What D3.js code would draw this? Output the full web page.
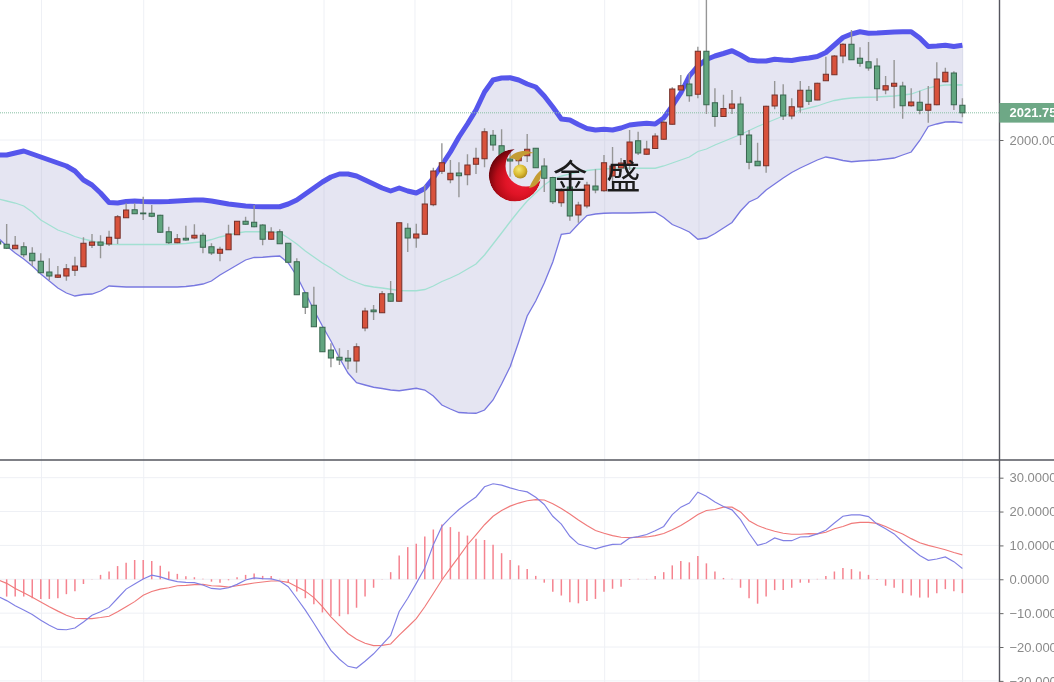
<!DOCTYPE html>
<html>
<head>
<meta charset="utf-8">
<script src="https://cdn.jsdelivr.net/npm/d3@7/dist/d3.min.js"></script>
<style>
html,body{margin:0;padding:0;background:#fff;overflow:hidden}
svg{display:block;filter:blur(0.4px)}
</style>
</head>
<body>
<svg id="c" width="1054" height="682"></svg>
<script>
const open=[1918.6,1916.6,1913.0,1914.6,1909.4,1903.0,1894.4,1890.2,1891.2,1895.8,1898.6,1915.8,1918.4,1916.8,1921.4,1937.8,1944.2,1941.6,1941.4,1939.8,1926.6,1917.8,1921.4,1921.6,1923.8,1914.6,1909.4,1912.2,1924.2,1935,1934.2,1932,1920.6,1926.6,1917.4,1902.6,1877.8,1867.8,1850.2,1832,1826.2,1825.4,1823.2,1849.6,1864,1861.8,1877,1871,1929.4,1921.6,1924.6,1948.2,1975,1968.2,1973.6,1972.2,1980.6,1985,2003.8,1995.4,1984.8,1983.4,1987.4,1993.4,1979.2,1970,1949.8,1962.4,1940,1947.2,1963.2,1959.4,1971.2,1977.6,1980.8,1999.4,1988.6,1993.2,2000.6,2012.6,2040,2044.8,2036.6,2071,2029.8,2018.8,2025.4,2028.8,2004,1983,1979.4,2027.2,2036,2019.2,2026.4,2039.8,2032,2047.4,2052.2,2067.2,2076.6,2065.4,2062.6,2059.2,2040,2043,2043.2,2027.4,2030.2,2023.8,2028.2,2046.6,2053.6,2027.8];
const close=[1916.8,1913.4,1915.8,1908.2,1903.4,1893.8,1891.2,1892,1897,1899.2,1917.4,1918.4,1915.8,1922.2,1938.6,1944,1941,1941,1939,1926.2,1917.8,1921,1920,1923.8,1914.2,1909.6,1912.6,1924.8,1935,1932.6,1930.6,1920.6,1926.4,1917,1902.2,1876.2,1866.2,1850.6,1830.6,1825.6,1824,1823.2,1834.6,1863.2,1862.6,1877,1871,1933.8,1921.6,1924.8,1948.8,1975.2,1981.8,1973.4,1971.4,1980,1985.4,2006.6,1996,1984,1983.2,1986.4,1992.6,1977.8,1969.4,1950.6,1959.2,1939.2,1948,1964,1960,1981.8,1979.2,1981.6,1998.4,1989.6,1992.8,2003.2,2014.2,2040.8,2043.4,2035.4,2071,2028.2,2018.8,2025.2,2028.8,2004.2,1982.2,1979.4,2027,2036,2019.2,2026.6,2039.8,2031,2045.4,2052.6,2067.2,2076.6,2064.2,2061.4,2057.6,2041,2043.4,2045.4,2027.4,2030.4,2023.8,2028.6,2048.8,2054.2,2028.2,2021.75];
const high=[1926.6,1932.8,1923.2,1918.2,1914.2,1909.4,1905.4,1899.2,1900.8,1906.6,1922.2,1924.8,1923.8,1927.4,1940,1949.4,1949.4,1954.6,1948,1940.2,1930.6,1924.8,1931.4,1932.6,1925.8,1917.4,1914.6,1932.2,1935.2,1938.6,1947.8,1932.6,1930.2,1928.6,1917.6,1905.4,1878.2,1882.6,1850.4,1837.4,1833.4,1832,1837.4,1865.8,1868,1879.2,1887.2,1934,1933.4,1933,1964,1977.8,1997.4,1984,1982.2,1988.6,1993.8,2009.4,2008,2008.6,1992,1990.4,2004.8,1993.6,1985.4,1970.6,1961.4,1964,1950.6,1966.6,1976.6,1988,1994.4,1985.6,2008,2006.6,1999.4,2005.4,2016,2042.2,2052,2053.6,2074.6,2113.6,2041.4,2036.2,2040,2034.6,2008,1997.8,2027.4,2047.2,2044.6,2033.4,2047.2,2043.2,2045.8,2066.6,2068,2077.4,2088,2074.2,2078.4,2065.4,2051.2,2064,2046.6,2041.4,2039.4,2043.2,2062.2,2057.8,2055,2033.4];
const low=[1916,1912.8,1912.8,1906.2,1899.2,1893.4,1888,1889.6,1887.4,1891.2,1898.4,1913.6,1905.4,1915.2,1916.8,1937.6,1940.8,1936,1938.2,1925.8,1916.8,1917.4,1919.4,1920.6,1909.4,1908,1903,1912,1924,1932.2,1930.2,1915.8,1920.2,1916.8,1901.8,1876,1860.8,1850.4,1830.4,1818.2,1820,1816.6,1813.8,1847,1856,1861.6,1870.6,1870.6,1910.4,1913.8,1924.2,1947,1972.8,1965.4,1954.2,1963.8,1972.8,1978.2,1991.4,1981.6,1970.6,1976,1982.4,1977.6,1958.4,1948.8,1946.6,1935.4,1933.8,1945.4,1957.4,1958.6,1964,1974.4,1976,1988,1988,1992.8,2000,2012.2,2039.4,2030.6,2033.4,2020.8,2010.6,2018.4,2020.8,1996,1976.6,1979.2,1973.8,2024.6,2016,2016.6,2021.8,2028,2031.8,2047.2,2052,2061.4,2064,2058.6,2055.4,2031.2,2036.6,2025.4,2017,2026.6,2020.6,2013.8,2027.8,2046.2,2024,2018.2];
const bollUpper=[1988,1988,1989.6,1991.2,1988.8,1986.4,1984,1981.6,1979.2,1975.2,1968,1964,1957.6,1950,1949.6,1950.8,1951.2,1950.8,1950.6,1950.6,1950.8,1951.2,1951.6,1952,1952,1951.2,1950,1948.8,1948,1947.2,1946.8,1946.6,1946.6,1946.6,1948.8,1952,1956.8,1961.6,1966.4,1970.4,1972.8,1972.8,1971.2,1968,1964.8,1961.6,1959.2,1961.6,1959.2,1957.6,1961.2,1969.6,1980,1990.4,2002.4,2012.8,2024,2038.4,2048,2049.6,2049.8,2048,2044.8,2042.4,2035.2,2026.4,2016.8,2016,2012.4,2009.2,2008,2008.6,2008,2009.6,2012,2012.8,2013.4,2012.8,2017.6,2027.2,2037.6,2051.2,2059.2,2064.4,2067.2,2069.2,2071.4,2068,2064,2063.2,2063.2,2064.6,2064,2063.6,2064.8,2065.6,2066.8,2070,2076,2082,2084.8,2086.6,2085.4,2085.6,2086,2086.4,2086.6,2086.6,2081.6,2074.8,2075.2,2075.8,2074.8,2075.8];
const bollLower=[1921.6,1915.2,1909.6,1904.8,1899.2,1892.8,1887.2,1881.6,1877.6,1875.2,1876.4,1876.8,1879.2,1883.2,1882.8,1882.4,1882.4,1882.4,1882.4,1882.4,1882.4,1882.4,1882.8,1883.6,1884.8,1887.2,1892,1896,1900,1904,1906,1906.2,1906.8,1907.2,1901.6,1891.2,1877.6,1864,1851.2,1839.2,1825.6,1813.6,1805.8,1804,1802.2,1801.2,1800,1799.4,1800.4,1801.4,1800,1795.2,1788,1784.8,1782,1781.6,1781.4,1784,1792,1804.8,1818.6,1838.4,1859.2,1871.2,1885.6,1902.4,1924.6,1925.4,1932.8,1939.6,1940.8,1941.4,1941.6,1941.6,1941.6,1941.8,1942,1942.2,1938,1932.4,1929.6,1926.4,1920.6,1921.6,1925.2,1929.6,1934,1943.2,1950.4,1953.6,1960,1964.8,1969.6,1974,1977.6,1980.8,1984,1986.4,1985.2,1983.6,1982.6,1983.2,1983.6,1984,1984.8,1985.6,1988,1990.4,1999.6,2010.8,2012.8,2014.4,2014.6,2013.8];
const bollMid=[1952.8,1951.2,1949.6,1947.2,1942.4,1936,1932,1928,1925.6,1922.8,1920.8,1919.2,1917.6,1916.6,1916.4,1916.4,1916.4,1916.4,1916.4,1916.4,1916.4,1916.8,1917.2,1918,1918.6,1920.4,1922.4,1924,1925.6,1926.6,1926.6,1926.6,1926.6,1925.8,1921.6,1916.8,1911.2,1906.4,1901.6,1897.6,1892.8,1888.8,1886,1883.6,1882.4,1881.6,1880.6,1879.6,1879.4,1879.4,1880.4,1883.2,1886.8,1889.6,1892.8,1896.8,1900.8,1908,1916.8,1925.6,1934.6,1943.2,1951.2,1957.6,1964,1968.8,1971.2,1972.8,1974.4,1975.6,1976.4,1976.8,1977.2,1977.4,1977.4,1977.4,1977.4,1977.4,1979.2,1981.6,1984,1986.4,1990.8,1992.8,1996,1998.8,2001.6,2004.4,2007.6,2010.8,2013.6,2016.4,2019.2,2021.6,2024,2025.6,2027.2,2029.6,2031.6,2032.8,2033.6,2034,2034.2,2034.4,2034.8,2035.2,2036,2036.8,2039.2,2041.6,2043.2,2044,2044.2,2044];
const macdDif=[-5.1,-6.3,-7.8,-9.1,-10.4,-12.1,-13.6,-14.8,-14.9,-14.4,-12.6,-10.6,-9.6,-8.3,-5.6,-2.9,-1.4,0.1,1.2,0.7,-0.1,-0.7,-0.9,-1.0,-1.7,-2.7,-2.9,-2.5,-1.5,-0.2,0.4,0.2,0.1,-0.5,-2.2,-5.6,-9.1,-13.0,-17.0,-21.0,-23.6,-25.7,-26.2,-24.2,-22.0,-19.3,-16.6,-9.5,-5.6,-1.2,3.3,10.2,15.6,18.3,20.6,22.5,24.3,27.3,28.2,27.8,27.0,26.3,25.8,24.2,22.1,18.6,16.3,12.7,10.4,9.7,9.0,9.7,10.3,10.4,12.2,12.6,13.2,14.3,15.6,19.1,21.3,22.5,25.7,24.5,22.8,21.5,20.5,17.6,13.6,10.0,10.7,12.2,11.4,11.4,12.5,12.6,13.4,14.5,16.6,18.6,19.0,19.0,18.5,16.3,14.9,13.4,11.0,9.0,7.0,5.6,6.0,6.6,5.2,3.2];
const macdDea=[-0.2,-1.2,-2.7,-4.0,-5.3,-6.7,-8.1,-9.4,-10.6,-11.5,-11.6,-11.6,-11.3,-10.9,-9.6,-8.1,-6.6,-4.7,-3.6,-2.9,-2.5,-1.9,-1.8,-1.6,-1.5,-1.9,-2.0,-2.3,-1.9,-1.5,-1.1,-0.8,-0.5,-0.5,-0.9,-2.2,-3.5,-5.4,-8.1,-11.1,-13.6,-16.0,-17.7,-18.9,-19.6,-19.5,-19.1,-16.5,-14.1,-11.6,-8.1,-4.2,-0.2,3.3,6.7,10.2,13.1,16.1,18.6,20.3,21.6,22.5,23.2,23.5,23.4,22.3,20.9,19.3,17.5,15.9,14.4,13.6,12.9,12.4,12.3,12.4,12.5,12.9,13.5,14.6,15.9,17.4,19.1,20.3,20.6,21.3,21.3,19.9,17.3,15.9,14.9,14.2,13.6,13.3,13.3,13.5,13.4,13.9,14.9,15.6,16.5,16.8,16.8,16.5,15.6,14.4,13.4,12.0,10.8,10.0,9.4,8.7,7.9,7.2];
const macdHist=[-3.8,-5.1,-5.1,-5.1,-5.6,-5.8,-5.8,-5.6,-4.4,-3.5,-1.4,0.1,1.3,2.3,3.9,4.9,5.7,5.7,5.4,4.0,2.3,1.6,0.9,0.6,0,-0.7,-1.0,-0.3,0.6,1.3,1.7,1.0,1.0,0,-1.0,-3.6,-5.6,-7.4,-9.8,-10.8,-10.9,-10.3,-8.4,-5.1,-2.5,0.1,2.1,7.0,9.5,10.5,12.6,14.7,16.2,15.4,14.0,12.9,12.0,11.6,10.2,7.7,5.7,4.1,3.0,1.0,-1.0,-3.7,-4.8,-6.8,-7.1,-6.4,-5.8,-3.7,-2.8,-2.2,-0.2,0,0.1,1.0,2.1,4.1,5.4,5.0,6.9,4.7,2.3,0.4,0,-2.5,-5.6,-7.2,-5.1,-3.2,-3.2,-2.5,-1.0,-1.0,0,1.0,2.3,3.3,3.0,2.3,1.3,-0.2,-1.9,-2.5,-4.1,-4.8,-5.4,-5.4,-4.1,-2.9,-3.5,-4.1];
const gridBars=[5.08,17.06,38.19,48.85,60.19,71.08,82.13,102.06,113.03];
const priceTicks=[2000];
const lastPrice=2021.75;
const macdTicks=[30,20,10,0,-10,-20,-30];
const logoText="金盛";

const W=1054,H=682,axisX=999.5,split=460;
const svg=d3.select("#c");
const idx=d3.range(open.length);
const x=d3.scaleLinear().domain([0,113]).range([-1.87,962.4]);
const y=d3.scaleLinear().domain([1744,2112]).range([split,0]);
const yM=d3.scaleLinear().domain([-30.33,35.22]).range([H,split]);

const defs=svg.append("defs");
const rg=defs.append("radialGradient").attr("id","redG").attr("cx","0.6").attr("cy","0.6").attr("r","0.62");
[[0,"#f0203a"],[0.45,"#e01426"],[0.75,"#b80c18"],[1,"#6e040c"]].forEach(s=>rg.append("stop").attr("offset",s[0]).attr("stop-color",s[1]));
const gg=defs.append("radialGradient").attr("id","goldG").attr("cx","0.4").attr("cy","0.35").attr("r","0.7");
[[0,"#f6e870"],[0.6,"#d8b830"],[1,"#a8841c"]].forEach(s=>gg.append("stop").attr("offset",s[0]).attr("stop-color",s[1]));
const m=defs.append("mask").attr("id","cres").attr("maskUnits","userSpaceOnUse").attr("x",0).attr("y",0).attr("width",W).attr("height",H);
m.append("rect").attr("width",W).attr("height",H).attr("fill","#000");
m.append("circle").attr("cx",515).attr("cy",175.3).attr("r",26.2).attr("fill","#fff");
m.append("circle").attr("cx",526).attr("cy",166).attr("r",20.5).attr("fill","#000");

// grid
const grid=svg.append("g").attr("stroke","#eef0f5").attr("stroke-width",1).attr("fill","none");
gridBars.forEach(b=>grid.append("line").attr("x1",x(b)).attr("x2",x(b)).attr("y1",0).attr("y2",H));
priceTicks.forEach(t=>grid.append("line").attr("x1",0).attr("x2",axisX).attr("y1",y(t)).attr("y2",y(t)));
macdTicks.forEach(t=>grid.append("line").attr("x1",0).attr("x2",axisX).attr("y1",yM(t)).attr("y2",yM(t)));

// bollinger band
svg.append("path").attr("fill","#e5e5f2").attr("d",
  d3.area().x(i=>x(i)).y0(i=>y(bollLower[i])).y1(i=>y(bollUpper[i]))(idx));
// grid showing through the band
const grid2=svg.append("g").attr("stroke","#d9dae9").attr("stroke-width",1);
gridBars.forEach(b=>{const k=Math.round(b);
  grid2.append("line").attr("x1",x(b)).attr("x2",x(b)).attr("y1",y(bollUpper[k])).attr("y2",y(bollLower[k]));});
priceTicks.forEach(t=>{
  idx.forEach(i=>{ if(i+1<idx.length&&bollLower[i]<t&&bollUpper[i]>t&&bollLower[i+1]<t&&bollUpper[i+1]>t)
    grid2.append("line").attr("x1",x(i)).attr("x2",x(i+1)).attr("y1",y(t)).attr("y2",y(t));});
});

const ln=(acc,sc)=>d3.line().x(i=>x(i)).y(i=>sc(acc[i]));
svg.append("path").attr("d",ln(bollMid,y)(idx)).attr("fill","none").attr("stroke","#a2e0d2").attr("stroke-width",1.3);
svg.append("path").attr("d",ln(bollLower,y)(idx)).attr("fill","none").attr("stroke","#7878e0").attr("stroke-width",1.3);
svg.append("path").attr("d",ln(bollUpper,y)(idx)).attr("fill","none").attr("stroke","#5656ec").attr("stroke-width",5).attr("stroke-linejoin","round");

// last price line
svg.append("line").attr("x1",0).attr("x2",axisX).attr("y1",y(lastPrice)).attr("y2",y(lastPrice))
  .attr("stroke","#86bfa2").attr("stroke-width",1).attr("stroke-dasharray","1 1");

// candles
const cg=svg.append("g");
idx.forEach(i=>{
  const up=close[i]>=open[i];
  cg.append("line").attr("x1",x(i)).attr("x2",x(i)).attr("y1",y(high[i])).attr("y2",y(low[i]))
    .attr("stroke","#969696").attr("stroke-width",1.4);
  const t=y(Math.max(open[i],close[i])),b=y(Math.min(open[i],close[i]));
  cg.append("rect").attr("x",x(i)-2.6).attr("width",5.2).attr("y",t).attr("height",Math.max(b-t,0.8))
    .attr("fill",up?"#d8523c":"#62a680").attr("stroke",up?"#75302a":"#38664f").attr("stroke-width",1);
});

// MACD
const hg=svg.append("g");
idx.forEach(i=>{
  hg.append("line").attr("x1",x(i)).attr("x2",x(i)).attr("y1",yM(0)).attr("y2",yM(macdHist[i]===0?0.12:macdHist[i]))
    .attr("stroke","#f5838f").attr("stroke-width",1.5);
});
svg.append("path").attr("d",ln(macdDea,yM)(idx)).attr("fill","none").attr("stroke","#f07a7a").attr("stroke-width",1.15);
svg.append("path").attr("d",ln(macdDif,yM)(idx)).attr("fill","none").attr("stroke","#8080e4").attr("stroke-width",1.15);

// logo
const logo=svg.append("g");
logo.append("circle").attr("cx",515).attr("cy",175.3).attr("r",26.2).attr("fill","url(#redG)").attr("mask","url(#cres)");
logo.append("circle").attr("cx",520.3).attr("cy",171.5).attr("r",7).attr("fill","url(#goldG)");
logo.append("path").attr("d","M509 158 C515 151 525 149 534 153 C527 153 522 156 518 161 C515 159 512 158 509 158 Z").attr("fill","#c49c34");
logo.append("path").attr("d","M529 188 C532 182 535 175 541 170 C542 178 538 187 529 188 Z").attr("fill","#c49c34");
logo.append("text").attr("x",553).attr("y",189).text(logoText)
  .attr("font-family","'Noto Sans CJK SC'").attr("font-size",34.5).attr("letter-spacing",18.5).attr("fill","#1c1c1c");

// axes
svg.append("line").attr("x1",0).attr("x2",W).attr("y1",split).attr("y2",split).attr("stroke","#55565e").attr("stroke-width",1.4);
svg.append("line").attr("x1",axisX).attr("x2",axisX).attr("y1",0).attr("y2",H).attr("stroke","#55565e").attr("stroke-width",1.4);

const rightAxis=(sc,ticks,fmt)=>{
  const g=svg.append("g").call(d3.axisRight(sc).tickValues(ticks).tickSize(4).tickPadding(6).tickFormat(fmt))
   .attr("transform",`translate(${axisX},0)`);
  g.select(".domain").remove();
  g.selectAll("line").attr("stroke","#666");
  g.selectAll("text").attr("fill","#8a8a8a").attr("font-family","'Liberation Sans',Arial,sans-serif").attr("font-size",13);
};
rightAxis(y,priceTicks,d=>d3.format(".2f")(d));
rightAxis(yM,macdTicks,d=>d3.format(".4f")(d).replace("-","\u2212"));

const lab=svg.append("g");
lab.append("rect").attr("x",axisX).attr("y",y(lastPrice)-9.8).attr("width",W-axisX).attr("height",19.6).attr("fill","#6ea886");
lab.append("text").attr("x",1009.5).attr("y",y(lastPrice)+4.6).text(d3.format(".2f")(lastPrice))
  .attr("fill","#fff").attr("font-weight","bold").attr("font-family","'Liberation Sans',Arial,sans-serif").attr("font-size",13);
</script>
</body>
</html>
